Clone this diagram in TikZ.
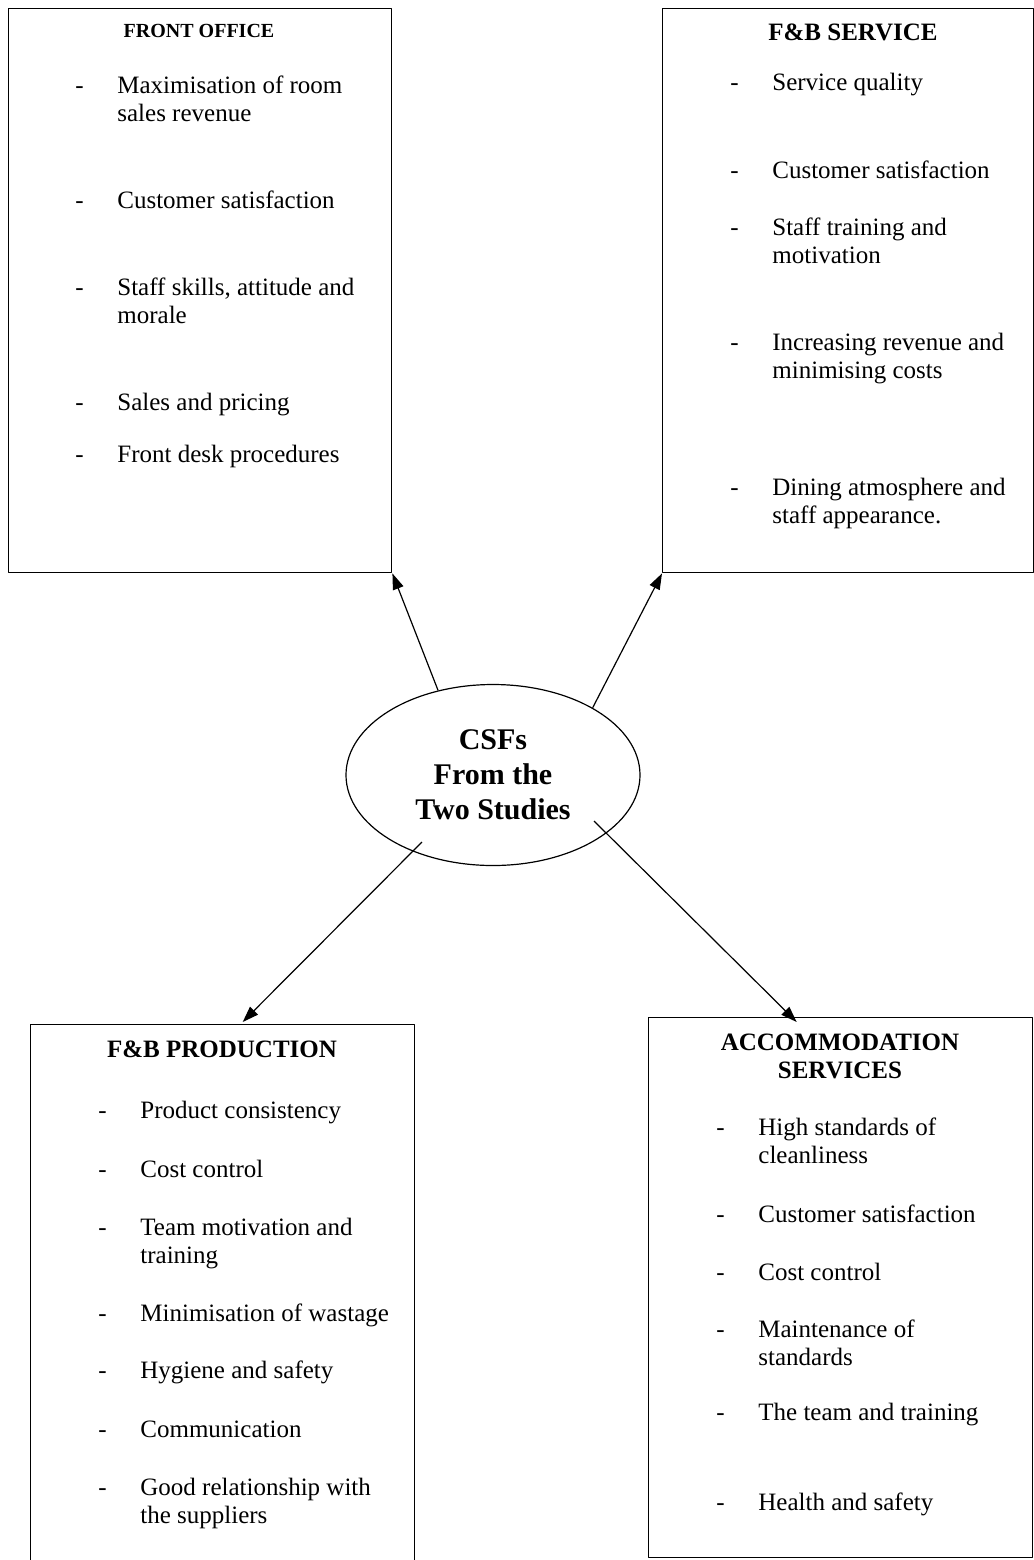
\documentclass[tikz,border=0pt]{standalone}
\usepackage{fontspec}
\setmainfont{Liberation Serif}
\usetikzlibrary{arrows.meta,shapes.geometric}
\newcommand{\csfitem}[1]{\begin{tabular}[t]{@{}p{21pt}@{}l@{}}-&#1\end{tabular}}
\tikzset{
  csfbox/.style={draw,line width=0.7pt,anchor=north west,inner sep=0pt},
  boxtitle/.style={anchor=base,inner sep=0pt,font=\fontsize{12.5}{14}\selectfont\bfseries},
  csfline/.style={anchor=base west,inner sep=0pt,font=\fontsize{12.5}{14}\selectfont},
  csfarrow/.style={line width=0.6pt,-{Triangle[length=8pt,width=5.5pt]}}
}
\begin{document}
\begin{tikzpicture}[x=0.5pt,y=-0.5pt,line join=round]
	\useasboundingbox (0,0) rectangle (1034,1560);
	\node[csfbox,minimum width=191.75pt,minimum height=282pt] (fo) at (7.5,8) {};
	\node[csfbox,minimum width=185.5pt,minimum height=282pt] (fbs) at (662,8) {};
	\node[csfbox,minimum width=192pt,minimum height=278pt] (prod) at (30,1024) {};
	\node[csfbox,minimum width=192pt,minimum height=270pt] (acc) at (648,1017) {};
	\node[draw,ellipse,line width=0.6pt,minimum width=147pt,minimum height=90.5pt,inner sep=0pt,align=center,
		font=\fontsize{15}{17.5}\selectfont\bfseries] (csf) at (493,775) {CSFs\\From the\\Two Studies};
	% titles
	\node[boxtitle,font=\fontsize{10}{12}\selectfont\bfseries] (fot) at (199,37) {FRONT OFFICE};
	\node[boxtitle] (fbst) at (853,40) {F\&B SERVICE};
	\node[boxtitle] (prodt) at (222,1057) {F\&B PRODUCTION};
	\node[boxtitle] (acct) at (840,1050) {\begin{tabular}[t]{@{}c@{}}ACCOMMODATION\\SERVICES\end{tabular}};
	% front office
	\node[csfline] (fo1) at (75,93) {\csfitem{Maximisation of room\\&sales revenue}};
	\node[csfline] (fo2) at (75,208) {\csfitem{Customer satisfaction}};
	\node[csfline] (fo3) at (75,295) {\csfitem{Staff skills, attitude and\\&morale}};
	\node[csfline] (fo4) at (75,410) {\csfitem{Sales and pricing}};
	\node[csfline] (fo5) at (75,462) {\csfitem{Front desk procedures}};
	% f&b service
	\node[csfline] (fbs1) at (730,90) {\csfitem{Service quality}};
	\node[csfline] (fbs2) at (730,178) {\csfitem{Customer satisfaction}};
	\node[csfline] (fbs3) at (730,235) {\csfitem{Staff training and\\&motivation}};
	\node[csfline] (fbs4) at (730,350) {\csfitem{Increasing revenue and\\&minimising costs}};
	\node[csfline] (fbs5) at (730,495) {\csfitem{Dining atmosphere and\\&staff appearance.}};
	% f&b production
	\node[csfline] (prod1) at (98,1118) {\csfitem{Product consistency}};
	\node[csfline] (prod2) at (98,1177) {\csfitem{Cost control}};
	\node[csfline] (prod3) at (98,1235) {\csfitem{Team motivation and\\&training}};
	\node[csfline] (prod4) at (98,1321) {\csfitem{Minimisation of wastage}};
	\node[csfline] (prod5) at (98,1378) {\csfitem{Hygiene and safety}};
	\node[csfline] (prod6) at (98,1437) {\csfitem{Communication}};
	\node[csfline] (prod7) at (98,1495) {\csfitem{Good relationship with\\&the suppliers}};
	% accommodation
	\node[csfline] (acc1) at (716,1135) {\csfitem{High standards of\\&cleanliness}};
	\node[csfline] (acc2) at (716,1222) {\csfitem{Customer satisfaction}};
	\node[csfline] (acc3) at (716,1280) {\csfitem{Cost control}};
	\node[csfline] (acc4) at (716,1337) {\csfitem{Maintenance of\\&standards}};
	\node[csfline] (acc5) at (716,1420) {\csfitem{The team and training}};
	\node[csfline] (acc6) at (716,1510) {\csfitem{Health and safety}};
	% arrows
	\coordinate (tp) at ([shift={(-71,67)}]csf.center);
	\coordinate (ta) at ([shift={(101,46)}]csf.center);
	\draw[csfarrow] (csf.123) -- (fo.south east);
	\draw[csfarrow] (csf.34) -- (fbs.south west);
	\draw[csfarrow] (tp) -- ([xshift=10pt,yshift=1pt]prod.north);
	\draw[csfarrow] (ta) -- ([xshift=-22pt,yshift=-2.5pt]acc.north);
\end{tikzpicture}
\end{document}
